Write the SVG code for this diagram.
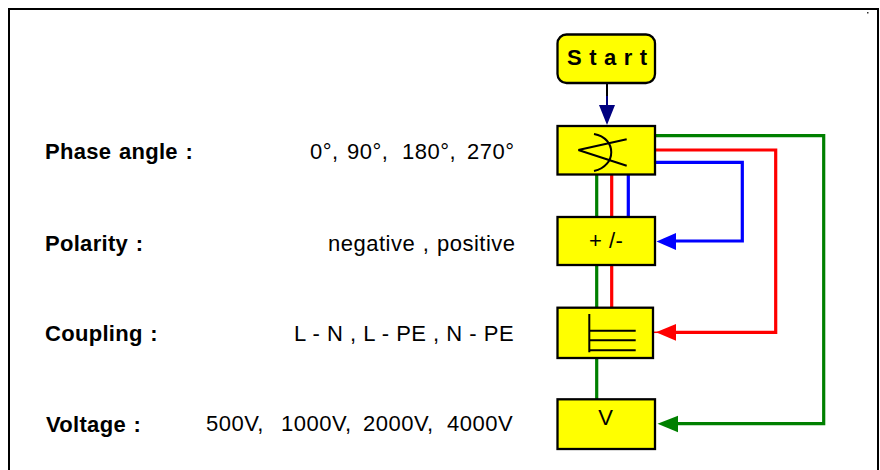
<svg xmlns="http://www.w3.org/2000/svg" width="880" height="470" viewBox="0 0 880 470">
<style>
text{font-family:"Liberation Sans",Arial,sans-serif;fill:#000}
.l{font-size:22px;font-weight:bold;letter-spacing:.3px;word-spacing:1.200px}
.v{font-size:22px;letter-spacing:.5px}
.b{fill:#ff0;stroke:#000;stroke-width:2.300}
.c{fill:none;stroke-width:3.200}
.s{fill:none;stroke:#000;stroke-width:2}
</style>
<rect width="880" height="470" fill="#fff"/>
<path d="M9 470V9H878V470" fill="none" stroke="#000" stroke-width="2"/>
<rect x="867" y="12" width="1.500" height="1.500" fill="#333"/>
<text class="l" x="45" y="159">Phase angle :</text>
<text class="l" x="45" y="251">Polarity :</text>
<text class="l" x="45" y="341">Coupling :</text>
<text class="l" x="46" y="431.500">Voltage :</text>
<text class="v" y="159"><tspan x="310">0°,</tspan><tspan x="347">90°,</tspan><tspan x="402">180°,</tspan><tspan x="467">270°</tspan></text>
<text class="v" x="328" y="251" word-spacing="1">negative , positive</text>
<text class="v" x="294" y="341">L - N , L - PE , N - PE</text>
<text class="v" y="431"><tspan x="206">500V,</tspan><tspan x="281">1000V,</tspan><tspan x="363">2000V,</tspan><tspan x="447">4000V</tspan></text>
<g id="connectors">
<path d="M607 84V97" stroke="#000" stroke-width="2" fill="none"/>
<path d="M607 96V106" stroke="#000080" stroke-width="2" fill="none"/>
<path d="M599 105H615L607 125Z" fill="#000080"/>
<path class="c" stroke="#008000" d="M596.700 175V399M656 135.700H823.700V423.700H676"/>
<path class="c" stroke="#f00" d="M611.700 175V307M656 150H775.700V332.300H676"/>
<path class="c" stroke="#00f" d="M628.300 175V216M656 162.300H742.300V241H676"/>
<path d="M656.500 241.500L676 233V250Z" fill="#00f"/>
<path d="M654 332.300H660" stroke="#f00" stroke-width="1.500"/>
<path d="M656 332.300L676 324V340.700Z" fill="#f00"/>
<path d="M657.500 423.700L678 415.700V432.300Z" fill="#008000"/>
</g>
<g id="start"><rect class="b" x="557.500" y="34.500" width="97.500" height="48.500" rx="9"/><text x="567" y="65" font-size="22" font-weight="bold" letter-spacing="7.500">Start</text></g>
<g id="phase"><rect class="b" x="557.500" y="126" width="97.500" height="48.500"/><path class="s" d="M578.300 150L626.700 139.300M578.300 150L626.700 165.700M594 134C617 138 617 166 594 171"/></g>
<g id="polarity"><rect class="b" x="557.500" y="217" width="97.500" height="48"/><text x="589" y="248" font-size="22" letter-spacing=".5">+ /-</text></g>
<g id="coupling"><rect class="b" x="557.500" y="307.700" width="95.500" height="50.300"/><path class="s" d="M589.300 314V352.300M589.300 330.700H635.700M589.300 340.300H635.700M589.300 350.300H635.700"/></g>
<g id="voltage"><rect class="b" x="557.500" y="399.300" width="97.500" height="49.700"/><text x="605.500" y="424.500" text-anchor="middle" font-size="22">V</text></g>
</svg>
